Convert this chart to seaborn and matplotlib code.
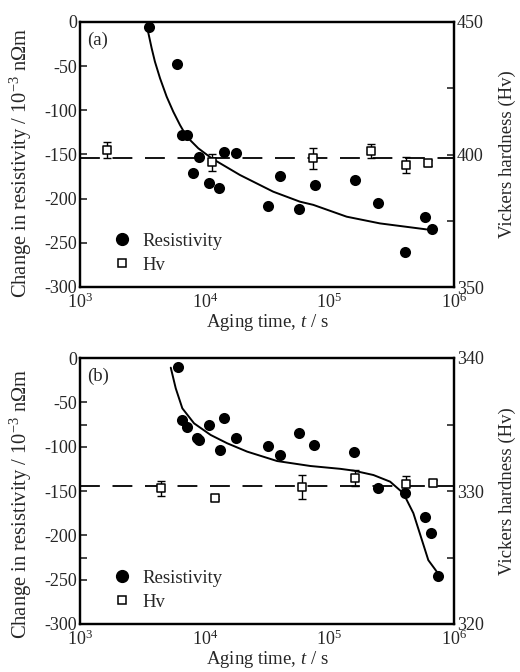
import numpy as np
import pandas as pd
import matplotlib
matplotlib.use("Agg")
import matplotlib.pyplot as plt
import seaborn as sns
from matplotlib.lines import Line2D
from matplotlib.ticker import FixedLocator, FixedFormatter

sns.set_theme(style="white")
plt.rcParams["font.family"] = ["Liberation Serif", "DejaVu Serif"]
plt.rcParams["mathtext.fontset"] = "custom"
plt.rcParams["mathtext.rm"] = "Liberation Serif"
plt.rcParams["mathtext.it"] = "Liberation Serif:italic"
plt.rcParams["axes.unicode_minus"] = False

# ---------------- data (a) ----------------
a_time = [3570, 6040, 6540, 7180, 8020, 8950, 10770, 13120, 14290, 17830,
          31990, 39950, 57190, 76300, 161700, 245600, 401500, 585000, 661600]
a_res = [-6, -47, -128, -128, -171, -153, -182, -188, -147, -148,
         -208, -174, -212, -185, -179, -205, -260, -221, -234]
a_hv_time = [1637, 11510, 74500, 215800, 409000, 622000]
a_hv = [401.6, 397.0, 398.5, 401.3, 395.9, 396.9]
a_hv_err = [3.0, 3.1, 4.0, 2.8, 3.0, 1.2]
a_hv_mean = 398.5
a_fit_time = [3467, 3758, 3990, 4385, 4955, 5598, 6339, 7178, 8892, 11376,
              19187, 35481, 58076, 74302, 137720, 254680, 602560]
a_fit_res = [-7, -29.8, -44.9, -63.7, -84.5, -101.5, -116.6, -129.8, -143,
             -154.3, -173.2, -192.1, -203.4, -207, -220.4, -228, -234.8]

# ---------------- data (b) ----------------
b_time = [6100, 6640, 7190, 8700, 9000, 10790, 13210, 14310, 17870, 32000,
          39900, 56600, 75700, 156300, 244900, 402500, 582000, 653000, 748000]
b_res = [-10, -70, -78, -90, -92, -76, -103.5, -68, -90, -99,
         -109.5, -84.3, -98, -106, -146.6, -152.6, -179, -197.6, -246.4]
b_hv_time = [4426, 12190, 60700, 161000, 410000, 682000]
b_hv = [330.2, 329.5, 330.3, 330.95, 330.55, 330.6]
b_hv_err = [0.55, 0.1, 0.9, 0.6, 0.6, 0.2]
b_hv_mean = 330.35
b_fit_time = [5346, 5861, 6622, 8222, 11169, 15171, 21928, 38107, 70469,
              122462, 156315, 225944, 307610, 392645, 472063, 552077, 622300,
              727780, 748000]
b_fit_res = [-10.9, -34.2, -56.8, -73.7, -86.8, -96.2, -105.6, -116.2, -121.8,
             -125, -127, -132, -139.5, -152.6, -175, -205, -228, -241, -245]

x_ticks = [1e3, 1e4, 1e5, 1e6]
x_ticklabels = ["$10^{3}$", "$10^{4}$", "$10^{5}$", "$10^{6}$"]
left_ticks = [0, -50, -100, -150, -200, -250, -300]
left_ticklabels = ["0", "-50", "-100", "-150", "-200", "-250", "-300"]

FS = 13.5
YFS = 14.8
TFS = 13

fig = plt.figure(figsize=(5.2, 6.72), dpi=100)
ax_a = fig.add_axes([80 / 520, 1 - 287 / 672, 374 / 520, 265 / 672])
ax_b = fig.add_axes([80 / 520, 1 - 624 / 672, 374 / 520, 266 / 672])


def panel(ax, t, r, ft, fr, ht, hv, he, hmean, hlim, hticks, hlabels, hminor, leftminor, tag, ylab_y):
    df = pd.DataFrame({"t": t, "r": r})
    dfit = pd.DataFrame({"t": ft, "r": fr})
    ax.set_xscale("log")
    sns.lineplot(data=dfit, x="t", y="r", ax=ax, color="black", lw=1.4,
                 sort=False, estimator=None, zorder=3)
    sns.scatterplot(data=df, x="t", y="r", ax=ax, color="black", s=64,
                    edgecolor="black", linewidth=0, zorder=4, legend=False)
    ax.set_xlim(1e3, 1e6)
    ax.set_ylim(-300, 0)
    ax2 = ax.twinx()
    ax2.set_ylim(*hlim)
    ax2.axhline(hmean, color="black", lw=1.3, dashes=(11, 7), zorder=2)
    ax2.errorbar(ht, hv, yerr=he, fmt="none", ecolor="black", elinewidth=1.0,
                 capsize=3, capthick=1.0, zorder=3)
    dh = pd.DataFrame({"t": ht, "h": hv})
    sns.scatterplot(data=dh, x="t", y="h", ax=ax2, marker="s", s=40,
                    facecolor="white", edgecolor="black", linewidth=1.1,
                    zorder=5, legend=False)
    ax2.set_xscale("log")
    ax2.set_xlim(1e3, 1e6)
    ax2.set_ylabel("Vickers hardness (Hv)", fontsize=FS, rotation=90, labelpad=11)
    ax2.yaxis.set_major_locator(FixedLocator(hticks))
    ax2.yaxis.set_major_formatter(FixedFormatter(hlabels))
    ax2.yaxis.set_minor_locator(FixedLocator(hminor))
    ax2.tick_params(axis="y", which="major", direction="in", length=5, width=1.2,
                    labelsize=TFS, pad=2)
    ax2.tick_params(axis="y", which="minor", direction="in", length=5, width=1.2)
    ax2.set_xlabel("")

    ax.set_xticks(x_ticks)
    ax.set_xticklabels(x_ticklabels)
    ax.xaxis.set_minor_locator(FixedLocator([]))
    ax.set_yticks(left_ticks)
    ax.set_yticklabels(left_ticklabels)
    ax.yaxis.set_minor_locator(FixedLocator(leftminor))
    ax.tick_params(axis="y", which="major", direction="in", length=5, width=1.2,
                   labelsize=TFS, pad=2)
    ax.tick_params(axis="x", which="major", direction="in", length=5, width=1.2,
                   labelsize=TFS, pad=4)
    ax.tick_params(axis="y", which="minor", direction="in", length=5, width=1.2)
    ax.set_xlabel("Aging time, $t$ / s", fontsize=FS, labelpad=0)
    ax.set_ylabel("Change in resistivity / 10$^{-3}$ n\u03a9m", fontsize=YFS)
    ax.yaxis.set_label_coords(-46 / 374, ylab_y)
    for a in (ax, ax2):
        for s in a.spines.values():
            s.set_linewidth(1.6)
            s.set_color("black")
    ax.text(0.02, 0.965, tag, transform=ax.transAxes, fontsize=FS, va="top", ha="left")
    handles = [
        Line2D([], [], marker="o", ls="none", color="black", markersize=8.5),
        Line2D([], [], marker="s", ls="none", markerfacecolor="white",
               markeredgecolor="black", markersize=6.2, markeredgewidth=1.1),
    ]
    ax2.legend(handles, ["Resistivity", "Hv"], loc="lower left",
               bbox_to_anchor=(0.048, 0.0), frameon=False, fontsize=FS,
               handlelength=1.2, handletextpad=0.5, labelspacing=0.38,
               borderaxespad=0.3)
    return ax2


panel(ax_a, a_time, a_res, a_fit_time, a_fit_res, a_hv_time, a_hv, a_hv_err,
      a_hv_mean, (350, 450), [350, 400, 450], ["350", "400", "450"], [375, 425], [], "(a)", 0.47)
panel(ax_b, b_time, b_res, b_fit_time, b_fit_res, b_hv_time, b_hv, b_hv_err,
      b_hv_mean, (320, 340), [320, 330, 340], ["320", "330", "340"], [325, 335], [-75, -225], "(b)", 0.45)

fig.savefig("out.png", dpi=100)
